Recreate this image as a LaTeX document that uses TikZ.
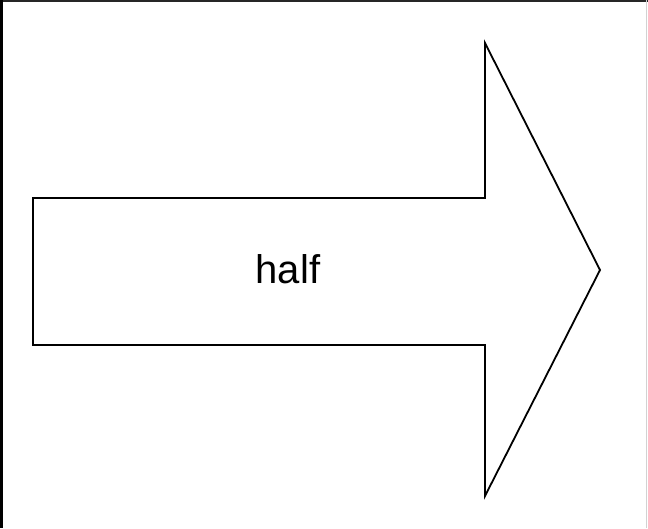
\documentclass[tikz,border=0pt]{standalone}
\usepackage{fontspec}
\setmainfont{Liberation Sans}
\begin{document}
\begin{tikzpicture}[x=1pt,y=-1pt,
  shape line/.style={draw=black,line width=1.8pt,line join=miter},
  labeltext/.style={font=\fontsize{40}{48}\selectfont,inner sep=0pt,anchor=base}]
\useasboundingbox (0,0) rectangle (648,528);
\fill[white] (0,0) rectangle (648,528);
% frame
\draw[line width=2pt,black!85] (0,1) -- (648,1);
\draw[line width=3pt] (1.5,0) -- (1.5,528);
\draw[line width=1.5pt,gray!35] (646.5,0) -- (646.5,528);
% arrow
\coordinate (tl) at (33,198);
\coordinate (bl) at (33,345);
\coordinate (st) at (485,198);
\coordinate (sb) at (485,345);
\coordinate (ht) at (485,43);
\coordinate (hb) at (485,496);
\coordinate (tip) at (600,270);
\draw[shape line] (tl) -- (st) -- (ht) -- (tip) -- (hb) -- (sb) -- (bl) -- cycle;
\node[labeltext] (label) at (288,283) {half};
\end{tikzpicture}
\end{document}
